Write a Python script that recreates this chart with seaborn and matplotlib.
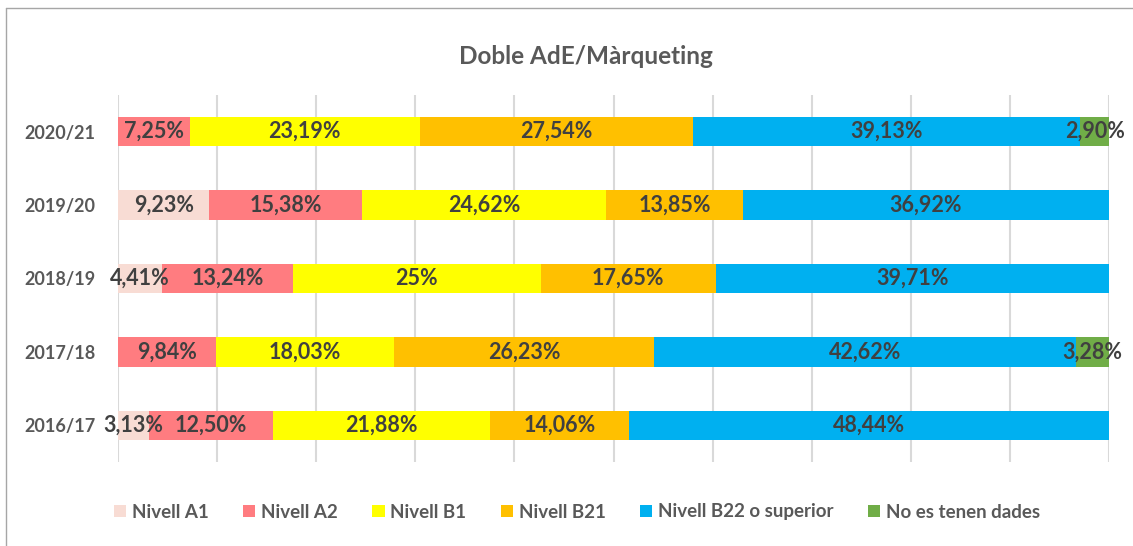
import numpy as np
import pandas as pd
import seaborn as sns
import matplotlib.pyplot as plt
from matplotlib.lines import Line2D
from matplotlib.patches import Patch

# Data (percentages)
years = ['2020/21', '2019/20', '2018/19', '2017/18', '2016/17']
levels = ['Nivell A1', 'Nivell A2', 'Nivell B1', 'Nivell B21',
          'Nivell B22 o superior', 'No es tenen dades']
nivell_a1 = [0, 9.23, 4.41, 0, 3.13]
nivell_a2 = [7.25, 15.38, 13.24, 9.84, 12.50]
nivell_b1 = [23.19, 24.62, 25, 18.03, 21.88]
nivell_b21 = [27.54, 13.85, 17.65, 26.23, 14.06]
nivell_b22 = [39.13, 36.92, 39.71, 42.62, 48.44]
no_dades = [2.90, 0, 0, 3.28, 0]
colors = ['#F8DCD4', '#FF7C80', '#FFFF00', '#FFC000', '#00B0F0', '#70AD47']

df = pd.DataFrame(dict(zip(levels, [nivell_a1, nivell_a2, nivell_b1,
                                     nivell_b21, nivell_b22, no_dades])),
                  index=years)
df.index.name = 'curs'
cum = df.cumsum(axis=1)

sns.set_theme(style='white')
plt.rcParams['font.family'] = ['Lato', 'DejaVu Sans']
plt.rcParams['font.weight'] = 'bold'

fig = plt.figure(figsize=(11.33, 5.46), dpi=100)
ax = fig.add_axes([118 / 1133, 1 - 462 / 546, (1109 - 118) / 1133, (462 - 95) / 546])

# stacked bars: draw cumulative totals from the last level back to the first
for lvl, col in reversed(list(zip(levels, colors))):
    sns.barplot(x=cum[lvl].values, y=years, orient='h', color=col,
                width=0.4, saturation=1, linewidth=0, ax=ax, zorder=3)

def fmt(v):
    if float(v).is_integer():
        return f'{int(v)}%'
    return f'{v:.2f}'.replace('.', ',') + '%'

for i, yr in enumerate(years):
    for lvl in levels:
        v = df.loc[yr, lvl]
        if v <= 0:
            continue
        c = cum.loc[yr, lvl] - v / 2
        ax.text(c, i, fmt(v), ha='center', va='center', fontsize=15.5,
                fontweight='bold', color='#404040', zorder=5)

ax.set_xlim(0, 100)
ax.set_ylim(4.5, -0.5)
ax.set_xticks(np.arange(0, 101, 10))
ax.set_xticklabels([])
ax.xaxis.grid(True, color='#D9D9D9', linewidth=1.5, zorder=0)
ax.set_axisbelow(True)
for s in ax.spines.values():
    s.set_visible(False)
ax.tick_params(axis='y', length=0, pad=16, labelsize=13, labelcolor='#595959')
for t in ax.get_yticklabels():
    t.set_fontweight('bold')
ax.set_xlabel('')
ax.set_ylabel('')

fig.text(586 / 1133, 1 - 57 / 546, 'Doble AdE/Màrqueting', ha='center', va='center',
         fontsize=17.5, fontweight='bold', color='#595959')

handles = [Patch(facecolor=c, edgecolor='none') for c in colors]
fig.legend(handles, levels, loc='center', bbox_to_anchor=(577 / 1133, 1 - 512 / 546),
           ncol=6, frameon=False, handlelength=0.65, handleheight=0.65,
           handletextpad=0.3, columnspacing=1.85,
           prop={'size': 13.5, 'weight': 'bold'}, labelcolor='#595959')

# outer chart frame
fig.add_artist(Line2D([6 / 1133, 6 / 1133], [0, 1 - 8 / 546], transform=fig.transFigure,
                      color='#A6A6A6', linewidth=1))
fig.add_artist(Line2D([6 / 1133, 1], [1 - 8 / 546, 1 - 8 / 546], transform=fig.transFigure,
                      color='#A6A6A6', linewidth=1))

fig.savefig('out.png', dpi=100)
